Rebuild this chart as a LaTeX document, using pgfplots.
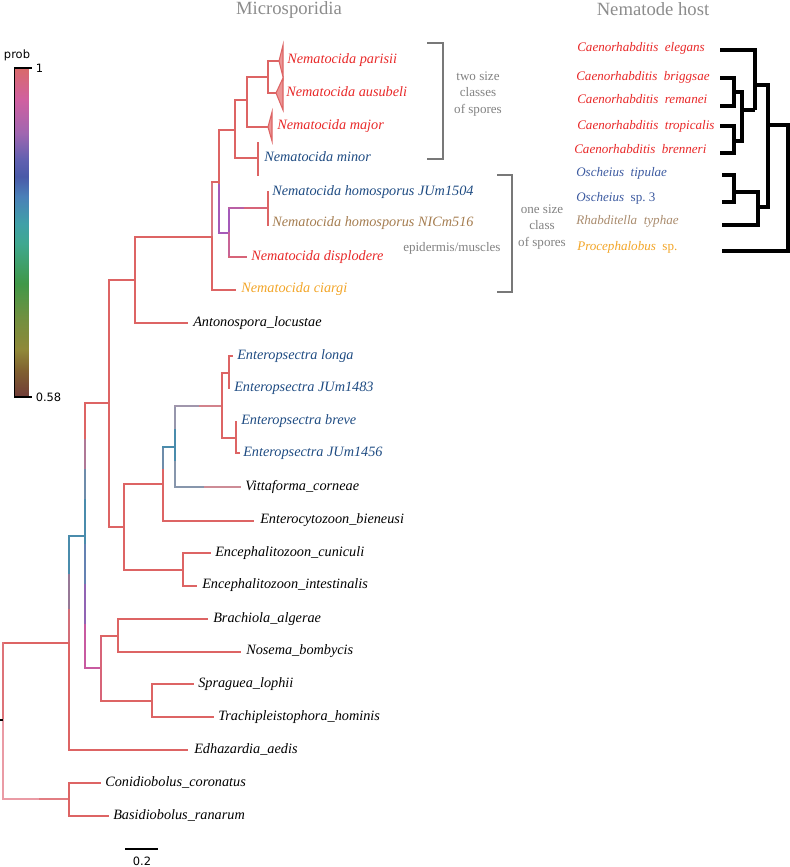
\documentclass[border=0pt]{standalone}
\usepackage{fontspec}
\setmainfont{Liberation Serif}
\newfontfamily\cbfont{DejaVu Sans}
\usepackage{pgfplots}
\pgfplotsset{compat=1.18}
\usetikzlibrary{calc}

\definecolor{cNred}{RGB}{232,40,40}
\definecolor{cNblue}{RGB}{30,75,130}
\definecolor{cNbrown}{RGB}{165,125,80}
\definecolor{cNorange}{RGB}{242,165,40}
\definecolor{cHblue}{RGB}{60,90,160}
\definecolor{cHbrown}{RGB}{170,140,110}
\definecolor{cGray}{RGB}{130,130,130}
\definecolor{cTitle}{RGB}{140,140,140}
\definecolor{cBr}{RGB}{120,120,120}

\definecolor{bR}{RGB}{221,100,100}
\definecolor{bPink}{RGB}{215,120,130}
\definecolor{bPur}{RGB}{165,90,185}
\definecolor{bPurPink}{RGB}{200,100,150}
\definecolor{bPRa}{RGB}{185,95,165}
\definecolor{bPRb}{RGB}{215,100,120}
\definecolor{bBlue}{RGB}{74,140,172}
\definecolor{bBlueGray}{RGB}{110,140,170}
\definecolor{bGray}{RGB}{150,150,172}
\definecolor{bGB}{RGB}{135,150,172}
\definecolor{bGP}{RGB}{205,140,150}
\definecolor{bGPb}{RGB}{160,150,172}
\definecolor{bGPc}{RGB}{210,130,140}
\definecolor{bEa}{RGB}{175,120,150}
\definecolor{bEc}{RGB}{100,130,178}
\definecolor{bEd}{RGB}{145,100,180}
\definecolor{bEe}{RGB}{200,90,160}
\definecolor{bFb}{RGB}{150,120,150}
\definecolor{bFc}{RGB}{210,110,120}
\definecolor{bRootA}{RGB}{222,115,120}
\definecolor{bRootB}{RGB}{234,155,165}
\definecolor{bRootC}{RGB}{226,125,130}
\definecolor{bTri}{RGB}{236,150,150}

\tikzset{
  lab/.style={anchor=west, inner sep=0pt, text height=1.5ex, text depth=0.25ex,
    font=\fontsize{10.7}{12}\selectfont\itshape},
  hlab/.style={anchor=west, inner sep=0pt, text height=1.5ex, text depth=0.25ex,
    font=\fontsize{9.8}{11}\selectfont},
  ann/.style={anchor=center, inner sep=0pt, text height=1.5ex, text depth=0.25ex,
    text=cGray, font=\fontsize{9.8}{11}\selectfont},
}
\newcommand{\br}[2]{\addplot[color=#1, line width=1.1pt, line cap=rect] coordinates {#2};}
\newcommand{\hb}[1]{\addplot[color=black, line width=2.6pt, line join=miter] coordinates {#1};}
\newcommand{\wsp}{\hspace{0.5em}}

\begin{document}
\begin{tikzpicture}
\begin{axis}[
  scale only axis, width=591.75pt, height=650.25pt,
  xmin=0, xmax=789, ymin=0, ymax=867, y dir=reverse,
  hide axis, clip=false, no marks,
  colormap={prob}{rgb255(0cm)=(112,60,56) rgb255(0.8cm)=(128,96,48) rgb255(1.4cm)=(144,136,56)
    rgb255(2.4cm)=(112,144,64) rgb255(3.4cm)=(64,152,72) rgb255(4.6cm)=(64,168,144)
    rgb255(5.2cm)=(64,160,168) rgb255(6.0cm)=(74,128,184) rgb255(6.6cm)=(74,90,168)
    rgb255(7.1cm)=(96,96,176) rgb255(7.9cm)=(160,102,176) rgb255(8.9cm)=(208,96,160)
    rgb255(9.85cm)=(217,106,106)},
  point meta min=0.58, point meta max=1,
  colorbar,
  colorbar style={
    at={($(parent axis.north west)+(2.25pt,-51pt)$)}, anchor=north west,
    width=10.5pt, height=246.75pt, y dir=normal,
    ytick={0.58,1}, yticklabels={0.58,1},
    yticklabel pos=right,
    yticklabel style={font=\cbfont\fontsize{8.6}{10}\selectfont, xshift=2pt},
    major tick length=0pt,
    axis line style={draw=none},
    title={prob},
    title style={at={(0,1)}, anchor=south west, inner sep=0pt, yshift=-1pt, xshift=-8pt,
      font=\cbfont\fontsize{8.6}{10}\selectfont},
    after end axis/.code={
      \draw[black, line width=1pt] (rel axis cs:0,0) -- (rel axis cs:0,1);
      \draw[black, line width=1pt] (rel axis cs:0,1) -- ++(13.5pt,0);
      \draw[black, line width=1pt] (rel axis cs:0,0) -- ++(13.5pt,0);
    },
  },
]
% ---------------- Nematocida clade ----------------
\br{bR}{(135,237) (212,237)}
\br{bPink}{(212,182) (212,237)}
\br{bR}{(212,237) (212,290) (235,290)}
\br{bR}{(212,182) (219,182)}
\br{bR}{(219,130) (219,185)}
\br{bPur}{(219,185) (219,233) (229,233)}
\br{bPur}{(229,208) (229,233)}
\br{bPurPink}{(229,233) (229,257)}
\br{bPRa}{(229,208) (245,208)}
\br{bPRb}{(245,208) (268,208)}
\br{bR}{(268,192) (268,225)}
\br{bPRb}{(229,257) (246,257)}
\br{bR}{(219,130) (235,130)}
\br{bR}{(235,100) (235,158) (258,158)}
\br{bR}{(258,143) (258,175)}
\br{bR}{(235,100) (247,100)}
\br{bR}{(247,77) (247,127) (268,127)}
\addplot[draw=bR, fill=bTri, line width=0.8pt] coordinates {(268,127) (272,112) (272,141)} -- cycle;
\br{bR}{(247,77) (268,77)}
\br{bR}{(268,61) (268,93)}
\br{bR}{(268,61) (279,61)}
\addplot[draw=bR, fill=bTri, line width=0.8pt] coordinates {(279,61) (283,45) (283,77)} -- cycle;
\br{bR}{(268,93) (276,93)}
\addplot[draw=bR, fill=bTri, line width=0.8pt] coordinates {(276,93) (283,78) (283,110)} -- cycle;
% ---------------- backbone ----------------
\br{bR}{(109,280) (135,280)}
\br{bR}{(135,237) (135,323) (187,323)}
\br{bR}{(109,280) (109,527) (124,527)}
\br{bR}{(85,403) (109,403)}
\br{bR}{(124,484) (124,570)}
\br{bR}{(124,484) (163,484)}
\br{bBlueGray}{(163,447) (163,470)}
\br{bR}{(163,470) (163,521) (253,521)}
\br{bBlue}{(163,447) (175,447)}
\br{bGray}{(175,406) (175,430)}
\br{bBlue}{(175,430) (175,462)}
\br{bGB}{(175,462) (175,487) (205,487)}
\br{bGP}{(205,487) (240,487)}
\br{bGPb}{(175,406) (200,406)}
\br{bGPc}{(200,406) (222,406)}
\br{bR}{(222,373) (222,438)}
\br{bR}{(222,373) (229,373)}
\br{bR}{(229,356) (229,388)}
\br{bR}{(229,356) (232,356)}
\br{bR}{(222,438) (236,438)}
\br{bR}{(236,422) (236,453) (239,453)}
\br{bR}{(124,570) (183,570)}
\br{bR}{(210,553) (183,553) (183,586) (196,586)}
% x=85 node
\br{bR}{(85,403) (85,440)}
\br{bEa}{(85,440) (85,470)}
\br{bBlueGray}{(85,470) (85,500)}
\br{bBlue}{(85,500) (85,545)}
\br{bEc}{(85,545) (85,585)}
\br{bEd}{(85,585) (85,625)}
\br{bEe}{(85,625) (85,668) (101,668)}
\br{bBlue}{(69,536) (85,536)}
\br{bBlue}{(69,536) (69,575)}
\br{bFb}{(69,575) (69,610)}
\br{bFc}{(69,610) (69,643)}
\br{bR}{(69,643) (69,750) (187,750)}
\br{bPRb}{(101,636) (101,701)}
\br{bR}{(101,636) (118,636)}
\br{bR}{(207,619) (118,619) (118,652) (240,652)}
\br{bR}{(101,701) (152,701)}
\br{bR}{(193,684) (152,684) (152,717) (213,717)}
% root
\br{bR}{(3,643) (69,643)}
\br{bRootA}{(3,643) (3,720)}
\br{bRootB}{(3,720) (3,799) (40,799)}
\br{bRootC}{(40,799) (69,799)}
\br{bR}{(100,783) (69,783) (69,816) (108,816)}
\addplot[black, line width=1pt] coordinates {(0,720) (3,720)};
% scale bar
\addplot[black, line width=1.2pt] coordinates {(125,849) (158,849)};
\node[anchor=center, inner sep=0pt, font=\cbfont\fontsize{8.6}{10}\selectfont] at (axis cs:142,861) {0.2};

% ---------------- labels ----------------
\node[lab, text=cNred] at (axis cs:287,60) {Nematocida parisii};
\node[lab, text=cNred] at (axis cs:286,93) {Nematocida ausubeli};
\node[lab, text=cNred] at (axis cs:277,126) {Nematocida major};
\node[lab, text=cNblue] at (axis cs:264,158) {Nematocida minor};
\node[lab, text=cNblue] at (axis cs:272,192) {Nematocida homosporus JUm1504};
\node[lab, text=cNbrown] at (axis cs:272,223) {Nematocida homosporus NICm516};
\node[lab, text=cNred] at (axis cs:251,257) {Nematocida displodere};
\node[lab, text=cNorange] at (axis cs:241,289) {Nematocida ciargi};
\node[lab] at (axis cs:193,323) {Antonospora\_locustae};
\node[lab, text=cNblue] at (axis cs:237,356) {Enteropsectra longa};
\node[lab, text=cNblue] at (axis cs:234,388) {Enteropsectra JUm1483};
\node[lab, text=cNblue] at (axis cs:241,421) {Enteropsectra breve};
\node[lab, text=cNblue] at (axis cs:243,453) {Enteropsectra JUm1456};
\node[lab] at (axis cs:245,487) {Vittaforma\_corneae};
\node[lab] at (axis cs:260,520) {Enterocytozoon\_bieneusi};
\node[lab] at (axis cs:215,553) {Encephalitozoon\_cuniculi};
\node[lab] at (axis cs:202,585) {Encephalitozoon\_intestinalis};
\node[lab] at (axis cs:213,619) {Brachiola\_algerae};
\node[lab] at (axis cs:246,651) {Nosema\_bombycis};
\node[lab] at (axis cs:198,684) {Spraguea\_lophii};
\node[lab] at (axis cs:218,717) {Trachipleistophora\_hominis};
\node[lab] at (axis cs:194,750) {Edhazardia\_aedis};
\node[lab] at (axis cs:105,783) {Conidiobolus\_coronatus};
\node[lab] at (axis cs:113,816) {Basidiobolus\_ranarum};

% titles
\node[anchor=center, inner sep=0pt, text=cTitle, font=\fontsize{14}{16}\selectfont] at (axis cs:289,10) {Microsporidia};
\node[anchor=center, inner sep=0pt, text=cTitle, font=\fontsize{14}{16}\selectfont] at (axis cs:653,9) {Nematode host};

% annotations
\node[ann] at (axis cs:478,77) {two size};
\node[ann] at (axis cs:478,93) {classes};
\node[ann] at (axis cs:478,110) {of spores};
\node[ann] at (axis cs:542,210) {one size};
\node[ann] at (axis cs:542,226) {class};
\node[ann] at (axis cs:542,243) {of spores};
\node[ann, anchor=west] at (axis cs:403,248) {epidermis/muscles};
\addplot[cBr, line width=1.4pt] coordinates {(427,43) (443,43) (443,159) (427,159)};
\addplot[cBr, line width=1.4pt] coordinates {(497,175) (512,175) (512,292) (497,292)};

% host labels
\node[hlab, text=cNred] at (axis cs:577,48) {\textit{Caenorhabditis}\wsp\textit{elegans}};
\node[hlab, text=cNred] at (axis cs:576,77) {\textit{Caenorhabditis}\wsp\textit{briggsae}};
\node[hlab, text=cNred] at (axis cs:577,100) {\textit{Caenorhabditis}\wsp\textit{remanei}};
\node[hlab, text=cNred] at (axis cs:577,126) {\textit{Caenorhabditis}\wsp\textit{tropicalis}};
\node[hlab, text=cNred] at (axis cs:574,150) {\textit{Caenorhabditis}\wsp\textit{brenneri}};
\node[hlab, text=cHblue] at (axis cs:576,173) {\textit{Oscheius}\wsp\textit{tipulae}};
\node[hlab, text=cHblue] at (axis cs:576,198) {\textit{Oscheius}\wsp sp.~3};
\node[hlab, text=cHbrown] at (axis cs:576,221) {\textit{Rhabditella}\wsp\textit{typhae}};
\node[hlab, text=cNorange] at (axis cs:577,247) {\textit{Procephalobus}\wsp sp.};

% host dendrogram
\hb{(720,78) (734,78) (734,106) (720,106)}
\hb{(720,126) (734,126) (734,153) (720,153)}
\hb{(734,92) (742,92) (742,141) (734,141)}
\hb{(742,110) (755,110)}
\hb{(720,50) (755,50) (755,110)}
\hb{(755,85) (768,85) (768,207) (758,207)}
\hb{(722,175) (734,175) (734,202) (722,202)}
\hb{(734,192) (758,192) (758,225) (722,225)}
\hb{(768,125) (788,125) (788,251) (722,251)}
\end{axis}
\pgfresetboundingbox
\useasboundingbox (0,0) rectangle (591.75pt,650.25pt);
\end{tikzpicture}
\end{document}
